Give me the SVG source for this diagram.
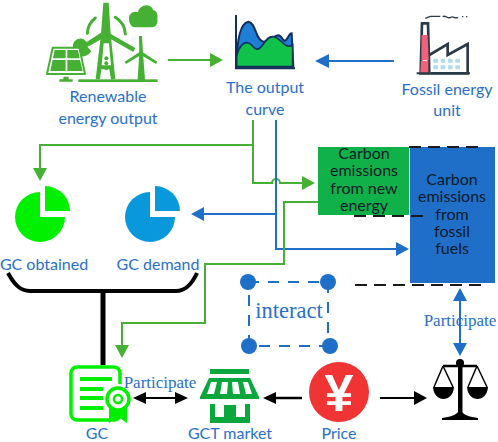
<svg xmlns="http://www.w3.org/2000/svg" width="498" height="442" viewBox="0 0 498 442">
<style>
.l{font-family:"Lato","Open Sans",sans-serif;font-size:16px;fill:#2a6fc9;text-anchor:middle}
.k{font-family:"Lato","Open Sans",sans-serif;font-size:16px;fill:#0b1a2a;text-anchor:middle}
.s{font-family:"Liberation Serif",serif;fill:#2a6fc9;text-anchor:middle}
.g{fill:none;stroke:#46b035;stroke-width:2}
.b{fill:none;stroke:#1f6fc8;stroke-width:2}
.dash{fill:none;stroke:#1a1a1a;stroke-width:2;stroke-dasharray:12 7}
.ib{fill:none;stroke:#1f6fc8;stroke-width:2;stroke-dasharray:11 9}
.t{fill:none;stroke:#46b035;stroke-linecap:round}
</style>
<rect width="498" height="442" fill="#fff"/>
<g id="renewable">
<g transform="scale(.3333)">
<g fill="#46b035">
<path d="M310 8h16l6 95 14 135h-13l-5-30h-24l-4 30h-13l16-135zM311 130l-6 66h28l-6-66z" fill-rule="evenodd"/>
<path d="M312 92l-52 34 8 12 56-32zM322 96l84 48-6 12-84-48z"/>
<circle cx="318" cy="105" r="13"/>
<path d="M222 125a28 28 0 0 1 28-8l20 18-8 5 12 14a28 28 0 0 1-52-29z"/>
<path d="M417 108h9l3 50 6 82h-22l5-82z"/>
<path d="M420 155l-46 30 4 7 46-28zM426 155l46 30-4 7-46-28z"/>
<circle cx="423" cy="160" r="7"/>
<rect x="235" y="238" width="238" height="8"/>
<path d="M387 55c0-14 14-24 27-18 2-22 38-32 46-6 12 0 14 18 12 24 3 14-4 27-16 27h-50c-14 0-20-15-19-27z"/>
<path d="M190 230h16v8h-16zM178 238h40v7h-40z"/>
</g>
<circle cx="319" cy="175" r="6" fill="#46b035"/><circle cx="319" cy="190" r="6" fill="#46b035"/><circle cx="319" cy="205" r="6" fill="#46b035"/>
<path d="M158 143H238L255 222H141Z" fill="#fff" stroke="#46b035" stroke-width="6" stroke-linejoin="round"/>
<path d="M164 150h33v25h-38zM202 150h32l5 25h-37zM158 180h39v33h-46zM202 180h38l8 33h-46z" fill="#46b035"/>
<path d="M262 100a62 62 0 0 1 24-46M346 52a62 62 0 0 1 30 50" class="t" stroke-width="9"/>
</g>
<text class="l" x="108" y="102">Renewable</text><text class="l" x="108" y="124">energy output</text>
</g>
<g id="curve">
<g transform="translate(220 0) scale(.3333)">
<path d="M50 200C50 120 60 70 85 65C110 70 105 120 130 125C160 125 170 85 190 120C200 130 205 100 215 100L220 200Z" fill="#1f7fd6" stroke="#12305a" stroke-width="6"/>
<path d="M50 200V170C55 140 75 115 95 135C125 175 130 105 160 110C185 115 195 150 218 135V200Z" fill="#10c24a" stroke="#12305a" stroke-width="5"/>
<path d="M48 45V205H225" fill="none" stroke="#12305a" stroke-width="6"/>
</g>
<text class="l" x="265" y="93">The output</text><text class="l" x="265" y="115">curve</text>
</g>
<g id="fossil">
<g transform="translate(220 0) scale(.3333)">
<path d="M606 70h18l4 150h-26z" fill="#fff" stroke="#2a3a48" stroke-width="8"/>
<path d="M605 105h18l3 75h-22zM603 182h22v38h-24z" fill="#f4607a"/>
<path d="M628 165l55-33v33l60-33v88h-110" fill="none" stroke="#2a3a48" stroke-width="8"/>
<path d="M590 220h160" stroke="#2a3a48" stroke-width="6"/>
<path d="M640 176h14v12h-14zM662 176h14v12h-14zM684 176h14v12h-14zM706 176h14v12h-14zM640 196h14v12h-14zM662 196h14v12h-14zM684 196h14v12h-14zM706 196h14v12h-14z" fill="#b5dcee"/>
<path d="M616 55l15-6h30M668 50c10-6 14 8 24 2c8-6 12 6 22 0M726 50h4M738 50h4" fill="none" stroke="#2a3a48" stroke-width="4"/>
</g>
<text class="l" x="447" y="95">Fossil energy</text><text class="l" x="447" y="116">unit</text>
</g>
<g id="gc-obtained">
<path d="M40 192A25 25 0 1 0 65 217H40Z" fill="#00f000"/><path d="M45 186A25 25 0 0 1 70 211H45Z" fill="#00f000"/>
<text class="l" x="44" y="270">GC obtained</text>
</g>
<g id="gc-demand">
<path d="M150 192A25 25 0 1 0 175 217H150Z" fill="#0a98dd"/><path d="M155 186A25 25 0 0 1 180 211H155Z" fill="#0a98dd"/>
<text class="l" x="158" y="270">GC demand</text>
</g>
<g id="new-energy">
<rect x="318" y="147" width="91" height="68" fill="#0fb148"/>
<text class="k" y="159"><tspan x="364">Carbon</tspan><tspan x="364" dy="17.300">emissions</tspan><tspan x="364" dy="17.300">from new</tspan><tspan x="364" dy="17.300">energy</tspan></text>
</g>
<g id="fossil-fuels">
<rect x="410" y="147" width="85" height="136" fill="#1f6fc8"/>
<text class="k" y="185"><tspan x="452">Carbon</tspan><tspan x="452" dy="17.300">emissions</tspan><tspan x="452" dy="17.300">from</tspan><tspan x="452" dy="17.300">fossil</tspan><tspan x="452" dy="17.300">fuels</tspan></text>
</g>
<g id="interact">
<path class="ib" d="M248 282H328M328 282V346M330 346H249M249 346V282"/>
<g fill="#1f6fc8"><circle cx="248" cy="282" r="8"/><circle cx="328" cy="282" r="8"/><circle cx="330" cy="346" r="8"/><circle cx="249" cy="346" r="8"/></g>
<text class="s" x="289" y="318" font-size="22.5">interact</text>
</g>
<g id="gc">
<rect x="71" y="367" width="49" height="53" rx="6" fill="none" stroke="#00f000" stroke-width="3.5"/>
<path d="M80 379h32M80 389h23M80 398h23M80 408h23" stroke="#00f000" stroke-width="4" fill="none"/>
<circle cx="118" cy="399" r="15" fill="#fff"/>
<path d="M109 406h18v17l-9-6-9 6z" fill="#00f000"/>
<circle cx="118" cy="399" r="11" fill="#fff" stroke="#00f000" stroke-width="3.5"/><circle cx="118" cy="399" r="4" fill="none" stroke="#00f000" stroke-width="2.5"/>
<text class="l" x="97" y="439">GC</text>
</g>
<g id="market">
<rect x="210" y="369" width="39" height="5" fill="#0aa83c"/>
<path d="M209 378h41l9 19v2h-59v-2z" fill="#0aa83c"/>
<path d="M211 382h6l-3 12h-7zM222 382h6l-1 12h-7zM232 382h6l2 12h-7zM243 382h5l4 12h-6z" fill="#fff"/>
<path d="M210 404h5v13h9v-12h12v12h9v-13h5v19h-40z" fill="#0aa83c"/>
<text class="l" x="230" y="439">GCT market</text>
</g>
<g id="price">
<circle cx="339" cy="392" r="30" fill="#f03333"/>
<text x="339" y="411" font-family="Liberation Sans,sans-serif" font-weight="700" font-size="52" fill="#fff" text-anchor="middle">¥</text>
<text class="l" x="339" y="439">Price</text>
</g>
<g id="scale">
<path d="M458 364h4.500v52h-4.500z" fill="#000"/><circle cx="460" cy="363" r="4" fill="#000"/>
<path d="M442 418c8-1 14-3 16-6h4c2 3 8 5 16 6v2h-36z" fill="#000"/>
<path d="M443 366h34" stroke="#000" stroke-width="2.5"/>
<path d="M443 366l-9 21M443 366l10 21M477 366l-9 21M477 366l10 21" stroke="#000" stroke-width="1.5" fill="none"/>
<path d="M433 387h21c-1 16-20 16-21 0zM467 387h21c-1 16-20 16-21 0z" fill="#000"/>
</g>
<g id="connectors">
<path class="dash" d="M409 147H485M354 216H430M355 285H485"/>
<path class="g" d="M168 60H212"/><path d="M210 53l13 7-13 7z" fill="#46b035"/>
<path class="b" d="M394 61H327"/><path d="M329 54l-14 7 14 7z" fill="#1f6fc8"/>
<path class="g" d="M253 120V183H272a4 4 0 0 1 8 0H304"/><path d="M302 176l13 7-13 7z" fill="#46b035"/>
<path class="g" d="M253 145H40V170"/><path d="M33 168h14l-7 13z" fill="#46b035"/>
<path class="b" d="M276 120V249H398"/><path d="M396 242l13 7-13 7z" fill="#1f6fc8"/>
<path class="b" d="M276 214H202"/><path d="M204 207l-13 7 13 7z" fill="#1f6fc8"/>
<path class="g" d="M318 202H284V264H205V323H122V347"/><path d="M115 345h14l-7 13z" fill="#46b035"/>
<path d="M8 273C14 284 20 291 30 291H176C186 291 192 284 197 273" fill="none" stroke="#000" stroke-width="4"/>
<path d="M103 291V365" stroke="#000" stroke-width="5"/>
<path d="M140 398H182" stroke="#000" stroke-width="2"/><path d="M146 392l-13 6 13 6zM175 392l13 6-13 6z" fill="#000"/>
<path d="M302 398H272" stroke="#000" stroke-width="2.5"/><path d="M276 392l-13 6 13 6z" fill="#000"/>
<path d="M380 398H416" stroke="#000" stroke-width="2"/><path d="M414 391l13 7-13 7z" fill="#000"/>
<path class="b" d="M460 298V346"/><path d="M453 301l7-13 7 13zM453 343l7 13 7-13z" fill="#1f6fc8"/>
<text class="s" x="160" y="388" font-size="17">Participate</text>
<text class="s" x="460" y="326" font-size="17">Participate</text>
</g>
</svg>
